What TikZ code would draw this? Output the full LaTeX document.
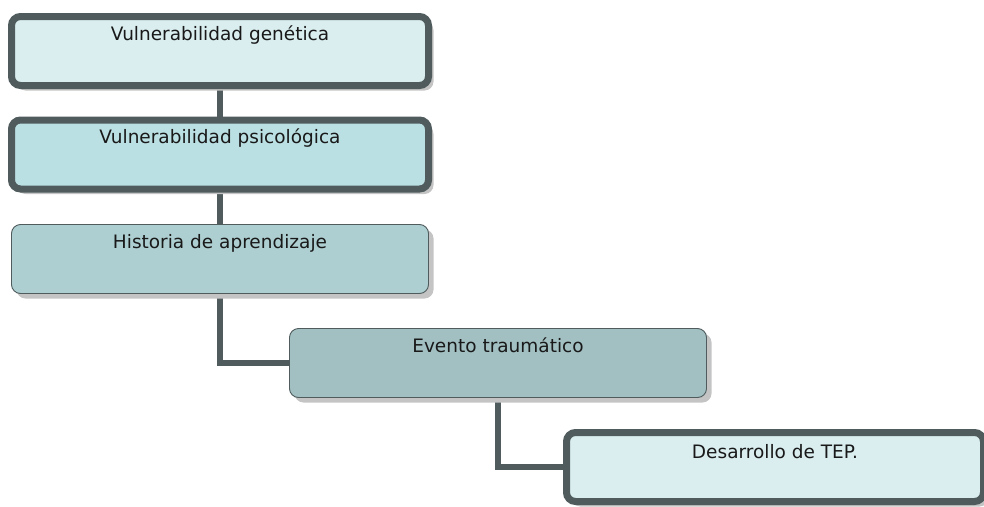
\documentclass[tikz,border=0pt]{standalone}
\usepackage{fontspec}
\setmainfont{DejaVu Sans}
\usetikzlibrary{shadows,backgrounds}
\definecolor{edge}{HTML}{4F5B5C}
\definecolor{fa}{HTML}{DAEEF0}
\definecolor{fb}{HTML}{BBE0E3}
\definecolor{fc}{HTML}{AECFD1}
\definecolor{fd}{HTML}{A2C0C2}
\definecolor{shad}{HTML}{C4C4C4}
\tikzset{
  boxbase/.style={rectangle, rounded corners=9pt, minimum width=417pt, minimum height=69pt, inner sep=0pt, draw=edge,
    drop shadow={shadow xshift=5pt, shadow yshift=-5pt, fill=shad, opacity=1}},
  thickbox/.style={boxbase, line width=7pt},
  thinbox/.style={boxbase, line width=0.9pt},
  txt/.style={font=\fontsize{18.5pt}{21pt}\selectfont, text=black!90, anchor=base, inner sep=0pt},
  conn/.style={draw=edge, line width=6pt}
}
\begin{document}
\begin{tikzpicture}[x=1pt,y=-1pt]
\useasboundingbox (0,0) rectangle (984,506);
\node[thickbox, fill=fa, label={[txt, yshift=-27.5pt]north:Vulnerabilidad genética}] (b1) at (220,51) {};
\node[thickbox, fill=fb, label={[txt, yshift=-27pt]north:Vulnerabilidad psicológica}] (b2) at (220,154.5) {};
\node[thinbox, fill=fc, label={[txt, yshift=-24.5pt]north:Historia de aprendizaje}] (b3) at (220,259) {};
\node[thinbox, fill=fd, label={[txt, yshift=-24.5pt]north:Evento traumático}] (b4) at (498,363) {};
\node[thickbox, fill=fa, label={[txt, yshift=-29pt]north:Desarrollo de TEP.}] (b5) at (775,467) {};
\begin{pgfonlayer}{background}
\draw[conn] (b1.south) -- (b2.north);
\draw[conn] (b2.south) -- (b3.north);
\draw[conn] (b3.south) |- (b4.west);
\draw[conn] (b4.south) |- (b5.west);
\end{pgfonlayer}
\end{tikzpicture}
\end{document}
